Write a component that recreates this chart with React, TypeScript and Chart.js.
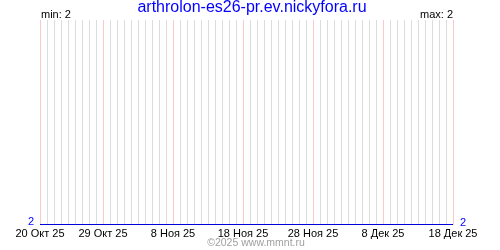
import React, { useEffect, useRef } from "react";
import { Chart, registerables } from "chart.js";

Chart.register(...registerables);

const title = "arthrolon-es26-pr.ev.nickyfora.ru";
const dates = [
  "20 Окт 25", "21 Окт 25", "22 Окт 25", "23 Окт 25", "24 Окт 25", "25 Окт 25",
  "26 Окт 25", "27 Окт 25", "28 Окт 25", "29 Окт 25", "30 Окт 25", "31 Окт 25",
  "1 Ноя 25", "2 Ноя 25", "3 Ноя 25", "4 Ноя 25", "5 Ноя 25", "6 Ноя 25",
  "7 Ноя 25", "8 Ноя 25", "9 Ноя 25", "10 Ноя 25", "11 Ноя 25", "12 Ноя 25",
  "13 Ноя 25", "14 Ноя 25", "15 Ноя 25", "16 Ноя 25", "17 Ноя 25", "18 Ноя 25",
  "19 Ноя 25", "20 Ноя 25", "21 Ноя 25", "22 Ноя 25", "23 Ноя 25", "24 Ноя 25",
  "25 Ноя 25", "26 Ноя 25", "27 Ноя 25", "28 Ноя 25", "29 Ноя 25", "30 Ноя 25",
  "1 Дек 25", "2 Дек 25", "3 Дек 25", "4 Дек 25", "5 Дек 25", "6 Дек 25",
  "7 Дек 25", "8 Дек 25", "9 Дек 25", "10 Дек 25", "11 Дек 25", "12 Дек 25",
  "13 Дек 25", "14 Дек 25", "15 Дек 25", "16 Дек 25", "17 Дек 25", "18 Дек 25",
];
const values = [
  2, 2, 2, 2, 2, 2, 2, 2, 2, 2, 2, 2,
  2, 2, 2, 2, 2, 2, 2, 2, 2, 2, 2, 2,
  2, 2, 2, 2, 2, 2, 2, 2, 2, 2, 2, 2,
  2, 2, 2, 2, 2, 2, 2, 2, 2, 2, 2, 2,
  2, 2, 2, 2, 2, 2, 2, 2, 2, 2, 2, 2,
];
const tickLabels = ["20 Окт 25", "29 Окт 25", "8 Ноя 25", "18 Ноя 25", "28 Ноя 25", "8 Дек 25", "18 Дек 25"];
const minText = "min: 2";
const maxText = "max: 2";
const yLabel = "2";
const footer = "©2025 www.mmnt.ru";

const FONT = "'Liberation Sans', Arial, sans-serif";

const textPlugin = {
  id: "texts",
  afterDraw(chart: any) {
    const ctx = chart.ctx as CanvasRenderingContext2D;
    const a = chart.chartArea;
    ctx.save();
    ctx.textBaseline = "middle";
    ctx.fillStyle = "#0000ff";
    ctx.font = `16px ${FONT}`;
    ctx.textAlign = "center";
    ctx.fillText(title, 252, 8);
    ctx.fillStyle = "#000";
    ctx.font = `11px ${FONT}`;
    ctx.textAlign = "left";
    ctx.fillText(minText, a.left + 1, 15);
    ctx.textAlign = "right";
    ctx.fillText(maxText, a.right, 15);
    ctx.fillStyle = "#0000ff";
    ctx.textAlign = "right";
    ctx.fillText(yLabel, a.left - 6, a.bottom - 3);
    ctx.textAlign = "left";
    ctx.fillText(yLabel, a.right + 7, a.bottom - 2);
    ctx.fillStyle = "#a0a0a0";
    ctx.textAlign = "center";
    ctx.font = `10.5px ${FONT}`;
    ctx.fillText(footer, 256, 243);
    ctx.restore();
  },
};

export default function App() {
  const ref = useRef<HTMLCanvasElement>(null);
  useEffect(() => {
    if (!ref.current) return;
    const chart = new Chart(ref.current, {
      type: "line",
      data: {
        labels: dates,
        datasets: [
          {
            data: values,
            borderColor: "#0000dd",
            borderWidth: 2,
            pointRadius: 0,
            fill: false,
            tension: 0,
          },
        ],
      },
      options: {
        animation: false,
        responsive: false,
        layout: { padding: { left: 40, right: 47, top: 20, bottom: 0 } },
        plugins: { legend: { display: false }, tooltip: { enabled: false }, title: { display: false } },
        scales: {
          x: {
            type: "category",
            offset: false,
            afterFit: (scale: any) => {
              scale.height = 25;
            },
            border: { display: false },
            grid: {
              drawTicks: false,
              lineWidth: 1,
              color: (c: any) =>
                tickLabels.includes(dates[c.index]) ? "#ffc8c8" : "#dcdcdc",
            },
            ticks: {
              autoSkip: false,
              maxRotation: 0,
              minRotation: 0,
              padding: 2,
              color: "#000",
              font: { family: FONT, size: 11 },
              callback: (_v: any, i: number) => (tickLabels.includes(dates[i]) ? dates[i] : ""),
            },
          },
          y: {
            display: false,
            min: 2,
            max: 3,
          },
        },
      },
      plugins: [textPlugin],
    });
    return () => chart.destroy();
  }, []);
  return (
    <div style={{ position: "absolute", left: 0, top: 0, width: 500, height: 250, background: "#fff" }}>
      <canvas ref={ref} width={500} height={250} style={{ display: "block" }} />
    </div>
  );
}
